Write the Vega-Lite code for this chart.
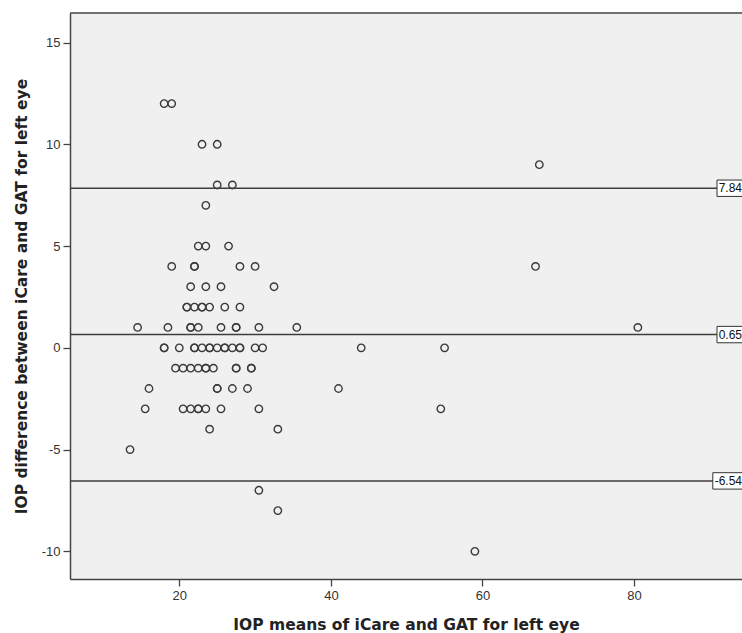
{
  "$schema": "https://vega.github.io/schema/vega-lite/v6.json",
  "width": 672,
  "height": 566,
  "autosize": {"type": "none"},
  "padding": {"left": 70, "top": 13, "right": 0, "bottom": 54},
  "background": "white",
  "config": {
    "view": {"fill": "#F0F0F0", "stroke": null},
    "font": "Liberation Sans",
    "axis": {
      "grid": false,
      "domainColor": "#444444",
      "domainWidth": 1.5,
      "tickColor": "#444444",
      "tickWidth": 1.3,
      "tickSize": 7,
      "labelFont": "Liberation Sans",
      "labelFontSize": 13,
      "labelColor": "#333333",
      "labelPadding": 3,
      "titleFont": "DejaVu Sans",
      "titleFontSize": 15.5,
      "titleFontWeight": "bold",
      "titleColor": "#222222"
    }
  },
  "datasets": {
    "points": [
      {"mean": 18, "diff": 12}, {"mean": 19, "diff": 12},
      {"mean": 23, "diff": 10}, {"mean": 25, "diff": 10},
      {"mean": 67.5, "diff": 9},
      {"mean": 25, "diff": 8}, {"mean": 27, "diff": 8},
      {"mean": 23.5, "diff": 7},
      {"mean": 22.5, "diff": 5}, {"mean": 23.5, "diff": 5}, {"mean": 26.5, "diff": 5},
      {"mean": 19, "diff": 4}, {"mean": 22, "diff": 4}, {"mean": 22, "diff": 4}, {"mean": 28, "diff": 4}, {"mean": 30, "diff": 4}, {"mean": 67, "diff": 4},
      {"mean": 21.5, "diff": 3}, {"mean": 23.5, "diff": 3}, {"mean": 25.5, "diff": 3}, {"mean": 32.5, "diff": 3},
      {"mean": 21, "diff": 2}, {"mean": 21, "diff": 2}, {"mean": 22, "diff": 2}, {"mean": 23, "diff": 2}, {"mean": 23, "diff": 2}, {"mean": 24, "diff": 2}, {"mean": 26, "diff": 2}, {"mean": 28, "diff": 2},
      {"mean": 14.5, "diff": 1}, {"mean": 18.5, "diff": 1}, {"mean": 21.5, "diff": 1}, {"mean": 21.5, "diff": 1}, {"mean": 22.5, "diff": 1}, {"mean": 25.5, "diff": 1}, {"mean": 27.5, "diff": 1}, {"mean": 27.5, "diff": 1}, {"mean": 30.5, "diff": 1}, {"mean": 35.5, "diff": 1}, {"mean": 80.5, "diff": 1},
      {"mean": 18, "diff": 0}, {"mean": 18, "diff": 0}, {"mean": 20, "diff": 0}, {"mean": 22, "diff": 0}, {"mean": 22, "diff": 0}, {"mean": 23, "diff": 0}, {"mean": 24, "diff": 0}, {"mean": 24, "diff": 0}, {"mean": 25, "diff": 0}, {"mean": 26, "diff": 0}, {"mean": 26, "diff": 0}, {"mean": 27, "diff": 0}, {"mean": 28, "diff": 0}, {"mean": 28, "diff": 0}, {"mean": 30, "diff": 0}, {"mean": 31, "diff": 0}, {"mean": 44, "diff": 0}, {"mean": 55, "diff": 0},
      {"mean": 19.5, "diff": -1}, {"mean": 20.5, "diff": -1}, {"mean": 21.5, "diff": -1}, {"mean": 22.5, "diff": -1}, {"mean": 23.5, "diff": -1}, {"mean": 23.5, "diff": -1}, {"mean": 24.5, "diff": -1}, {"mean": 27.5, "diff": -1}, {"mean": 27.5, "diff": -1}, {"mean": 29.5, "diff": -1}, {"mean": 29.5, "diff": -1},
      {"mean": 16, "diff": -2}, {"mean": 25, "diff": -2}, {"mean": 25, "diff": -2}, {"mean": 27, "diff": -2}, {"mean": 29, "diff": -2}, {"mean": 41, "diff": -2},
      {"mean": 15.5, "diff": -3}, {"mean": 20.5, "diff": -3}, {"mean": 21.5, "diff": -3}, {"mean": 22.5, "diff": -3}, {"mean": 22.5, "diff": -3}, {"mean": 23.5, "diff": -3}, {"mean": 25.5, "diff": -3}, {"mean": 30.5, "diff": -3}, {"mean": 54.5, "diff": -3},
      {"mean": 24, "diff": -4}, {"mean": 33, "diff": -4},
      {"mean": 13.5, "diff": -5},
      {"mean": 30.5, "diff": -7},
      {"mean": 33, "diff": -8},
      {"mean": 59, "diff": -10}
    ],
    "lines": [
      {"value": 7.84, "label": "7.84"},
      {"value": 0.65, "label": "0.65"},
      {"value": -6.54, "label": "-6.54"}
    ]
  },
  "layer": [
    {
      "data": {"name": "points"},
      "mark": {"type": "point", "shape": "circle", "filled": false, "stroke": "#3a3a3a", "strokeWidth": 1.4, "size": 55, "opacity": 1},
      "encoding": {
        "x": {
          "field": "mean", "type": "quantitative",
          "title": "IOP means of iCare and GAT for left eye",
          "scale": {"domain": [5.58, 94.24], "nice": false, "zero": false},
          "axis": {"values": [20, 40, 60, 80], "titlePadding": 15, "labelExpr": "'' + datum.value"}
        },
        "y": {
          "field": "diff", "type": "quantitative",
          "title": "IOP difference between iCare and GAT for left eye",
          "scale": {"domain": [-11.36, 16.45], "nice": false, "zero": false},
          "axis": {"values": [-10, -5, 0, 5, 10, 15], "titlePadding": 12, "labelExpr": "'' + datum.value"}
        }
      }
    },
    {
      "data": {"name": "lines"},
      "mark": {"type": "rule", "color": "#3d3d3d", "strokeWidth": 1.5},
      "encoding": {
        "y": {"field": "value", "type": "quantitative", "title": "IOP difference between iCare and GAT for left eye"}
      }
    },
    {
      "data": {"name": "lines"},
      "mark": {"type": "point", "filled": true, "fill": "white", "stroke": "#333333", "strokeWidth": 1, "size": 64, "opacity": 1},
      "encoding": {
        "x": {"value": "width"},
        "y": {"field": "value", "type": "quantitative", "title": "IOP difference between iCare and GAT for left eye"},
        "shape": {
          "field": "label", "type": "nominal", "legend": null,
          "scale": {"domain": ["7.84", "0.65", "-6.54"], "range": ["M-6.25,-2.05H2.5V2.05H-6.25Z", "M-6.25,-2.05H2.5V2.05H-6.25Z", "M-7.3,-2.05H2.5V2.05H-7.3Z"]}
        }
      }
    },
    {
      "data": {"name": "lines"},
      "mark": {"type": "text", "align": "right", "baseline": "middle", "dx": 0, "fontSize": 12, "color": "#111111", "font": "Liberation Sans"},
      "encoding": {
        "x": {"value": "width"},
        "y": {"field": "value", "type": "quantitative", "title": "IOP difference between iCare and GAT for left eye"},
        "text": {"field": "label"}
      }
    },
    {
      "data": {"values": [{}]},
      "mark": {"type": "rule", "color": "#444444", "strokeWidth": 1.5},
      "encoding": {
        "y": {"datum": 16.45}
      }
    }
  ]
}
